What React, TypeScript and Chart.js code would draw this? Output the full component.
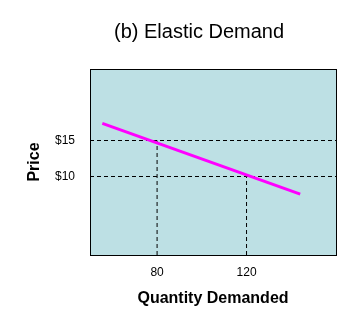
import React, { useEffect, useRef } from 'react';
import { Chart, registerables } from 'chart.js';

Chart.register(...registerables);

const chartTitle = '(b) Elastic Demand';
const xAxisTitle = 'Quantity Demanded';
const yAxisTitle = 'Price';

const xTickValues = [80, 120];
const yTickValues = [10, 15];
const yTickLabels = ['$10', '$15'];

const demandQuantity = [55.5, 144];
const demandPrice = [17.4, 7.5];

const guideQuantities = [80, 120];
const guidePrices = [15, 10];

const xMin = 50;
const xMax = 160;
const yMin = -1;
const yMax = 25;

const FONT = '"Liberation Sans", Arial, Helvetica, sans-serif';
const PLOT_BG = 'rgb(189,224,228)';
const LINE_COLOR = '#ff00ff';

const framePlugin = {
  id: 'framePlugin',
  beforeDraw(chart: any) {
    const { ctx, chartArea: a } = chart;
    ctx.save();
    ctx.fillStyle = PLOT_BG;
    ctx.fillRect(a.left, a.top, a.right - a.left, a.bottom - a.top);
    ctx.restore();
  },
  afterDraw(chart: any) {
    const { ctx, chartArea: a } = chart;
    ctx.save();
    ctx.strokeStyle = '#000';
    ctx.lineWidth = 1;
    ctx.setLineDash([]);
    ctx.strokeRect(a.left + 0.5, a.top + 0.5, a.right - a.left, a.bottom - a.top);
    ctx.fillStyle = '#000';
    ctx.font = `20px ${FONT}`;
    ctx.textAlign = 'center';
    ctx.textBaseline = 'middle';
    ctx.fillText(chartTitle, (a.left + a.right) / 2 - 14, 32);
    ctx.restore();
  },
};

export default function App() {
  const ref = useRef<HTMLCanvasElement | null>(null);

  useEffect(() => {
    document.body.style.margin = '0';
    if (!ref.current) return;

    const datasets: any[] = [
      {
        label: 'Demand',
        data: demandQuantity.map((q, i) => ({ x: q, y: demandPrice[i] })),
        borderColor: LINE_COLOR,
        borderWidth: 3,
        pointRadius: 0,
        borderCapStyle: 'butt',
      },
      ...guideQuantities.map((q, i) => ({
        label: 'Guide ' + q,
        data: [
          { x: q, y: yMin },
          { x: q, y: guidePrices[i] },
        ],
        borderColor: '#000',
        borderWidth: 1,
        borderDash: [4, 3],
        pointRadius: 0,
      })),
    ];

    const chart = new Chart(ref.current, {
      type: 'line',
      data: { datasets },
      plugins: [framePlugin],
      options: {
        animation: false,
        responsive: false,
        maintainAspectRatio: false,
        parsing: false,
        layout: { padding: { top: 69, right: 26, left: 0, bottom: 0 } },
        plugins: {
          legend: { display: false },
          tooltip: { enabled: false },
          title: { display: false },
        },
        scales: {
          x: {
            type: 'linear',
            min: xMin,
            max: xMax,
            afterBuildTicks: (scale: any) => {
              scale.ticks = xTickValues.map((v) => ({ value: v }));
            },
            afterFit: (scale: any) => {
              scale.height = 67;
            },
            grid: { display: false, drawTicks: false },
            border: { display: false },
            ticks: {
              color: '#000',
              font: { family: FONT, size: 12 },
              padding: 10,
              maxRotation: 0,
              callback: (v: any) => String(v),
            },
            title: {
              display: true,
              text: xAxisTitle,
              color: '#000',
              font: { family: FONT, size: 16, weight: 'bold' },
              padding: { top: 0, bottom: 14 },
            },
          },
          y: {
            type: 'linear',
            min: yMin,
            max: yMax,
            afterBuildTicks: (scale: any) => {
              scale.ticks = yTickValues.map((v) => ({ value: v }));
            },
            afterFit: (scale: any) => {
              scale.width = 90;
            },
            grid: { color: '#000', lineWidth: 1, drawTicks: false },
            border: { display: false, dash: [4, 3] },
            ticks: {
              color: '#000',
              font: { family: FONT, size: 12 },
              padding: 15,
              callback: (v: any) => {
                const i = yTickValues.indexOf(Number(v));
                return i >= 0 ? yTickLabels[i] : '';
              },
            },
            title: {
              display: true,
              text: yAxisTitle,
              color: '#000',
              font: { family: FONT, size: 16, weight: 'bold' },
              padding: { top: 25, bottom: 0 },
            },
          },
        },
      } as any,
    });

    return () => chart.destroy();
  }, []);

  return (
    <div style={{ width: 362, height: 322 }}>
      <canvas ref={ref} width={362} height={322} style={{ display: 'block' }} />
    </div>
  );
}
